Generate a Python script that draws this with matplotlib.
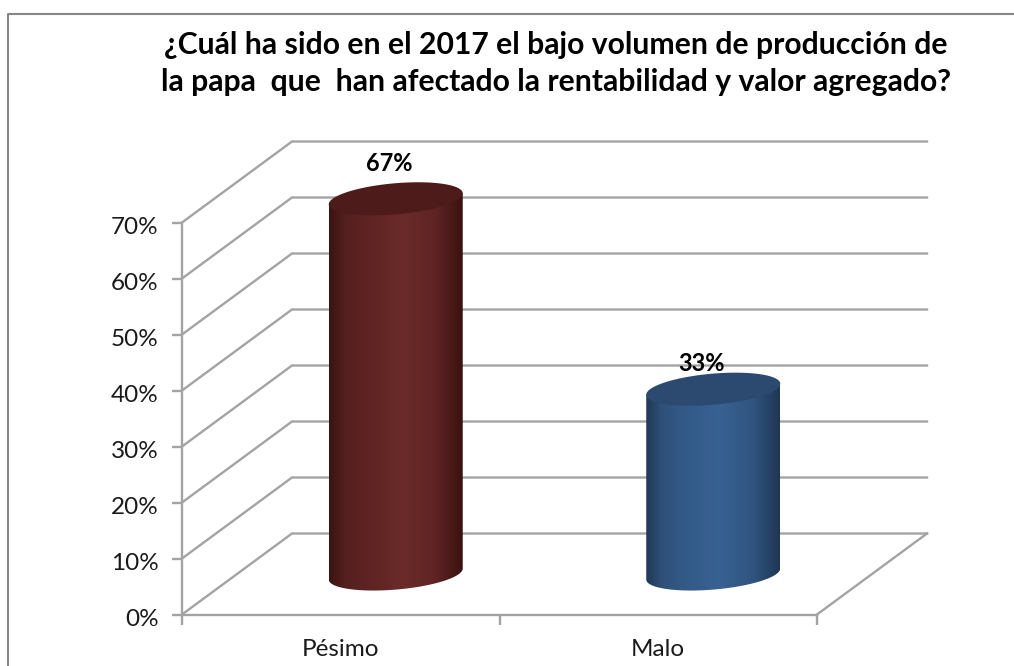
import numpy as np
import matplotlib
matplotlib.use("Agg")
import matplotlib.pyplot as plt
from matplotlib.colors import LinearSegmentedColormap
from matplotlib.lines import Line2D
from matplotlib.patches import Polygon
from matplotlib.transforms import ScaledTranslation

plt.rcParams['font.family'] = ['Lato', 'DejaVu Sans']

categorias = ["Pésimo", "Malo"]
valores = [67, 33]
etiquetas_y = [0, 10, 20, 30, 40, 50, 60, 70]
titulo = "¿Cuál ha sido en el 2017 el bajo volumen de producción de\nla papa  que  han afectado la rentabilidad y valor agregado?"

W, H = 1014, 666
fig = plt.figure(figsize=(W / 100, H / 100), dpi=100)
fig.patch.set_facecolor("white")

# zona frontal del grafico, en pixeles de la imagen
izq, der, arriba, abajo = 182, 817, 222.5, 614.5
ax = fig.add_axes([izq / W, 1 - abajo / H, (der - izq) / W, (abajo - arriba) / H])
ax.patch.set_visible(False)

# profundidad 3D y forma de los cilindros, en unidades de los ejes
prof_x = 110 / (der - izq) * 2
prof_y = 81 / (abajo - arriba) * 70
radio_x = 67 / (der - izq) * 2
radio_y = 15.6 / (abajo - arriba) * 70
giro = 5.5 / (abajo - arriba) * 70

gris = "#a3a3a3"
for v in etiquetas_y:
    ax.plot([0, prof_x, 2 + prof_x], [v, v + prof_y, v + prof_y], color=gris, lw=1.7,
            clip_on=False, zorder=1, solid_joinstyle="miter")
ax.plot([2, 2 + prof_x], [0, prof_y], color=gris, lw=1.7, clip_on=False, zorder=1)

colores = [
    (["#3a1312", "#54201f", "#5e2322", "#6b2b2b", "#5e2423", "#3a1211"], "#4d1b19"),
    (["#203858", "#2f5179", "#335a87", "#386293", "#30547f", "#1f3655"], "#2c4a70"),
]
posiciones = [0, 0.12, 0.3, 0.55, 0.8, 1]
# desplazamiento de las etiquetas de datos respecto al tope, en puntos
desp_etiquetas = [(-5, 25.2), (-8.3, 18.5)]

for i, v in enumerate(valores):
    cx = i + 0.5 + prof_x / 2
    base = prof_y / 2
    tope = v + prof_y / 2
    t = np.linspace(0, 2 * np.pi, 200)
    borde_x = radio_x * np.cos(t)
    borde_y = radio_y * np.sin(t) + giro * np.cos(t)
    # arco inferior de la base
    ti = np.linspace(np.pi, 2 * np.pi, 100)
    arco_x = cx + radio_x * np.cos(ti)
    arco_y = base + radio_y * np.sin(ti) + giro * np.cos(ti)
    cuerpo = np.vstack([[cx - radio_x, tope - giro], np.column_stack([arco_x, arco_y]), [cx + radio_x, tope + giro]])
    clip = Polygon(cuerpo, closed=True, facecolor="none", edgecolor="none", transform=ax.transData)
    ax.add_patch(clip)
    clip.set_clip_on(False)

    cmap = LinearSegmentedColormap.from_list("c", list(zip(posiciones, colores[i][0])))
    im = ax.imshow(np.linspace(0, 1, 256).reshape(1, -1), cmap=cmap, aspect="auto",
                   extent=[cx - radio_x, cx + radio_x, base - radio_y - giro, tope + radio_y + giro],
                   zorder=2)
    im.set_clip_path(clip)
    im.set_clip_box(fig.bbox)

    ax.add_patch(Polygon(np.column_stack([cx + borde_x, tope + borde_y]), closed=True,
                         facecolor=colores[i][1], edgecolor="none", clip_on=False, zorder=3))

    ax.annotate(f"{v}%", xy=(cx, tope), xytext=desp_etiquetas[i], textcoords="offset points",
                ha="center", va="center", fontsize=17, fontweight="bold", color="black",
                zorder=5, annotation_clip=False)

ax.set_xlim(0, 2)
ax.set_ylim(0, 70)
ax.set_yticks(etiquetas_y)
ax.set_yticklabels([f"{v}%" for v in etiquetas_y], fontsize=17.5, color="#1a1a1a")
ax.set_xticks([0, 1, 2])
ax.set_xticklabels([])
ax.set_xticks([0.5, 1.5], labels=categorias, minor=True, fontsize=17.5, color="#1a1a1a")
ax.tick_params(axis="y", length=7, width=1.7, color=gris, pad=10)
ax.tick_params(axis="x", which="major", length=7, width=1.7, color=gris)
ax.tick_params(axis="x", which="minor", length=0, pad=17.5)
bajar = ScaledTranslation(0, -2.5 / 72, fig.dpi_scale_trans)
for et in ax.get_yticklabels():
    et.set_transform(et.get_transform() + bajar)
for lado in ["top", "right"]:
    ax.spines[lado].set_visible(False)
for lado in ["left", "bottom"]:
    ax.spines[lado].set_color(gris)
    ax.spines[lado].set_linewidth(1.7)

# marco exterior
fig.add_artist(Line2D([7.5 / W, 7.5 / W, 1], [0, 1 - 13.5 / H, 1 - 13.5 / H], color="#868686", lw=1.5))

fig.text(556 / W, 1 - 63.5 / H, titulo, ha="center", va="center", fontsize=21.7,
         fontweight="bold", color="black", linespacing=1.42)

fig.savefig("out.png", dpi=100)
